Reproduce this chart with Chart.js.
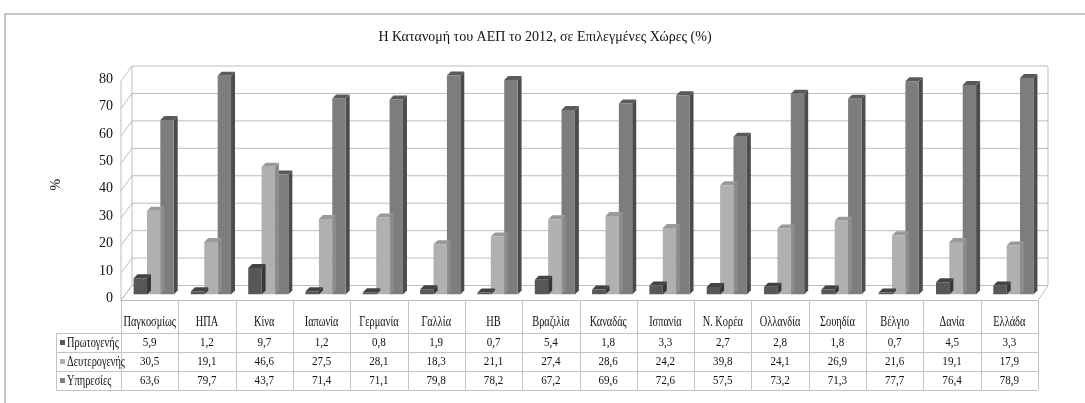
<!DOCTYPE html>
<html><head><meta charset="utf-8">
<script src="https://cdn.jsdelivr.net/npm/chart.js@4.4.1/dist/chart.umd.min.js"></script>
<style>html,body{margin:0;padding:0;background:#fff;}canvas{display:block;}</style>
</head><body>
<canvas id="c" width="1085" height="403"></canvas>
<script>
const titleText = 'Η Κατανομή του ΑΕΠ το 2012, σε Επιλεγμένες Χώρες (%)';
const yTitle = '%';
const categories = ['Παγκοσμίως','ΗΠΑ','Κίνα','Ιαπωνία','Γερμανία','Γαλλία','ΗΒ','Βραζιλία','Καναδάς','Ισπανία','Ν. Κορέα','Ολλανδία','Σουηδία','Βέλγιο','Δανία','Ελλάδα'];
const seriesNames = ['Πρωτογενής','Δευτερογενής','Υπηρεσίες'];
const primary   = [5.9,1.2,9.7,1.2,0.8,1.9,0.7,5.4,1.8,3.3,2.7,2.8,1.8,0.7,4.5,3.3];
const secondary = [30.5,19.1,46.6,27.5,28.1,18.3,21.1,27.4,28.6,24.2,39.8,24.1,26.9,21.6,19.1,17.9];
const services  = [63.6,79.7,43.7,71.4,71.1,79.8,78.2,67.2,69.6,72.6,57.5,73.2,71.3,77.7,76.4,78.9];
const yTicks = [0,10,20,30,40,50,60,70,80];

const fronts = ['#575757','#b0b0b0','#7d7d7d'];
const sides  = ['#383838','#8c8c8c','#4c4c4c'];
const tops   = ['#434343','#9a9a9a','#5a5a5a'];
const DX = 4, DY = -4;
const TXT = '#111';

function fmt(v){ return v.toFixed(1).replace('.', ','); }

function sxText(ctx, txt, x, y, sx){
  ctx.save(); ctx.translate(x, y); ctx.scale(sx, 1); ctx.fillText(txt, 0, 0); ctx.restore();
}

const frame3d = {
  id: 'frame3d',
  beforeDatasetsDraw(chart){
    const ctx = chart.ctx, ys = chart.scales.y;
    const ca = chart.chartArea;
    const fl = ca.left - 4, fr = ca.right - 4;
    const bl = ca.left + 7, br = ca.right + 6;
    const fOff = 6, bOff = -9;
    ctx.save();
    ctx.strokeStyle = '#bdbdbd'; ctx.lineWidth = 1;
    const y0 = ys.getPixelForValue(0);
    ctx.beginPath();
    ctx.moveTo(fl, y0 + fOff); ctx.lineTo(fr, y0 + fOff); ctx.lineTo(br, y0 + bOff); ctx.lineTo(bl, y0 + bOff); ctx.closePath();
    ctx.stroke();
    yTicks.forEach(v => {
      const y = ys.getPixelForValue(v);
      ctx.beginPath();
      ctx.moveTo(fl, y + fOff); ctx.lineTo(bl, y + bOff); ctx.lineTo(br, y + bOff);
      ctx.stroke();
    });
    const yTop = ys.getPixelForValue(80);
    ctx.beginPath();
    ctx.moveTo(fl, y0 + fOff); ctx.lineTo(fl, yTop + fOff);
    ctx.moveTo(bl, y0 + bOff); ctx.lineTo(bl, yTop + bOff);
    ctx.moveTo(br, y0 + bOff); ctx.lineTo(br, yTop + bOff);
    ctx.stroke();
    ctx.restore();
  },
  beforeDatasetDraw(chart, args){
    const ctx = chart.ctx, i = args.index;
    ctx.save();
    args.meta.data.forEach(bar => {
      const p = bar.getProps(['x','y','base','width'], true);
      const l = p.x - p.width/2, r = p.x + p.width/2, t = p.y, b = p.base;
      ctx.fillStyle = sides[i];
      ctx.beginPath();
      ctx.moveTo(r, b); ctx.lineTo(r + DX, b + DY); ctx.lineTo(r + DX, t + DY); ctx.lineTo(r, t); ctx.closePath(); ctx.fill();
      ctx.fillStyle = tops[i];
      ctx.beginPath();
      ctx.moveTo(l, t); ctx.lineTo(l + DX, t + DY); ctx.lineTo(r + DX, t + DY); ctx.lineTo(r, t); ctx.closePath(); ctx.fill();
    });
    ctx.restore();
  },
  afterDraw(chart){
    const ctx = chart.ctx, xs = chart.scales.x, ys = chart.scales.y;
    const ca = chart.chartArea;
    const colW = (ca.right - ca.left) / categories.length;
    const left0 = ca.left - 4;
    const tableTop = ys.getPixelForValue(0) + 6;
    const headBottom = 333, rowH = 19;
    const legendLeft = 56;
    ctx.save();
    ctx.strokeStyle = '#c8c8c8'; ctx.lineWidth = 2;
    ctx.beginPath(); ctx.moveTo(5, 410); ctx.lineTo(5, 14); ctx.lineTo(1090, 14); ctx.stroke();
    ctx.strokeStyle = '#c4c4c4'; ctx.lineWidth = 1;
    ctx.beginPath();
    for (let k = 0; k <= categories.length; k++){
      const cx = Math.round(xs.getPixelForValue(k) - colW/2 - 4) + 0.5;
      ctx.moveTo(cx, tableTop); ctx.lineTo(cx, headBottom + rowH*3);
    }
    ctx.moveTo(legendLeft + 0.5, headBottom); ctx.lineTo(legendLeft + 0.5, headBottom + rowH*3);
    for (let r = 0; r <= 3; r++){
      const yy = headBottom + rowH*r + 0.5;
      ctx.moveTo(legendLeft, yy); ctx.lineTo(left0 + colW*categories.length, yy);
    }
    ctx.stroke();
    ctx.fillStyle = TXT;
    ctx.textBaseline = 'middle'; ctx.textAlign = 'center';
    ctx.font = '14px "Liberation Serif"';
    categories.forEach((c, k) => {
      const cx = xs.getPixelForValue(k) - 4;
      sxText(ctx, c, cx, 322, 0.74);
    });
    const data = [primary, secondary, services];
    data.forEach((arr, r) => {
      const yy = headBottom + rowH*r + rowH/2 + 0.5;
      ctx.font = '13px "Liberation Serif"';
      ctx.textAlign = 'center';
      arr.forEach((v, k) => {
        const cx = xs.getPixelForValue(k) - 4;
        sxText(ctx, fmt(v), cx, yy, 0.85);
      });
      ctx.fillStyle = fronts[r];
      ctx.fillRect(60, yy - 3, 5, 5);
      ctx.fillStyle = TXT;
      ctx.textAlign = 'left';
      ctx.font = '14px "Liberation Serif"';
      sxText(ctx, seriesNames[r], 67, yy, 0.74);
    });
    ctx.restore();
  }
};

new Chart(document.getElementById('c'), {
  type: 'bar',
  data: {
    labels: categories,
    datasets: [
      { label: seriesNames[0], data: primary,   backgroundColor: fronts[0] },
      { label: seriesNames[1], data: secondary, backgroundColor: fronts[1] },
      { label: seriesNames[2], data: services,  backgroundColor: fronts[2] }
    ]
  },
  options: {
    responsive: false,
    animation: false,
    events: [],
    categoryPercentage: 0.7,
    barPercentage: 1.0,
    layout: { padding: { left: 48, right: 43, top: 0, bottom: 108.5 } },
    plugins: {
      legend: { display: false },
      tooltip: { enabled: false },
      title: {
        display: true, text: titleText, color: TXT,
        font: { family: '"Liberation Serif"', size: 14, weight: 'normal', lineHeight: 1.2 },
        padding: { top: 28.6, bottom: 29.6 }
      }
    },
    scales: {
      x: { display: false },
      y: {
        min: 0, max: 80,
        afterFit(scale){ scale.width = 77; },
        grid: { display: false, drawTicks: false },
        border: { display: false },
        ticks: { stepSize: 10, padding: 12, labelOffset: 4, color: TXT,
                 font: { family: '"Liberation Serif"', size: 14 } },
        title: { display: true, text: yTitle, color: TXT, padding: { top: 0, bottom: 0 },
                 font: { family: '"Liberation Serif"', size: 14 } }
      }
    }
  },
  plugins: [frame3d]
});
</script>
</body></html>
